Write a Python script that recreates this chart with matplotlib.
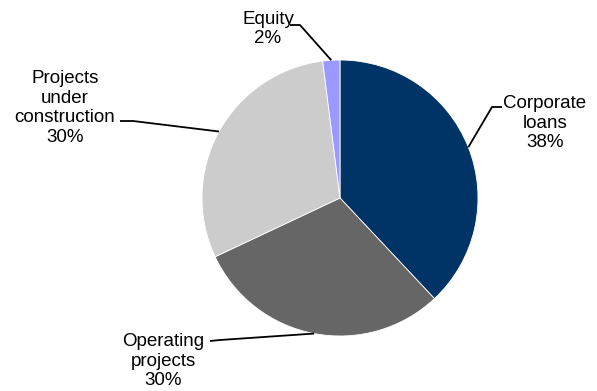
import numpy as np
import matplotlib.pyplot as plt

plt.rcParams['font.family'] = ['Liberation Sans', 'DejaVu Sans']

# Portfolio breakdown
labels = ['Corporate\nloans', 'Operating\nprojects', 'Projects\nunder\nconstruction', 'Equity']
shares = [38, 30, 30, 2]
colors = ['#003366', '#666666', '#CCCCCC', '#9999FF']

# label placement (text centre, elbow point, line end) in pixel-like coords
text_pos = [(545, 268), (163, 30), (65, 283), (268, 362)]
elbows = [(492, 284), (220, 51), (133, 270), (300, 366)]
line_ends = [(502, 284), (210, 50), (120, 270), (290, 366)]

W, H = 597, 391
fig = plt.figure(figsize=(W / 100, H / 100), dpi=100)
ax = fig.add_axes([0, 0, 1, 1])

cx, cy, r = 340, 193, 138
wedges, _ = ax.pie(shares, colors=colors, startangle=90, counterclock=False,
                   center=(cx, cy), radius=r, frame=True,
                   wedgeprops=dict(edgecolor='white', linewidth=0.6))
ax.set_xlim(0, W)
ax.set_ylim(0, H)
ax.set_aspect('equal')
ax.axis('off')

for w, lab, val, tp, el, le in zip(wedges, labels, shares, text_pos, elbows, line_ends):
    ang = np.deg2rad((w.theta1 + w.theta2) / 2)
    px = cx + r * np.cos(ang)
    py = cy + r * np.sin(ang)
    ax.plot([px, el[0], le[0]], [py, el[1], le[1]], color='black', lw=1.3,
            solid_capstyle='butt')
    ax.text(tp[0], tp[1], f'{lab}\n{val}%', ha='center', va='center',
            fontsize=13.5, linespacing=1.18)

fig.savefig('out.png', dpi=100)
